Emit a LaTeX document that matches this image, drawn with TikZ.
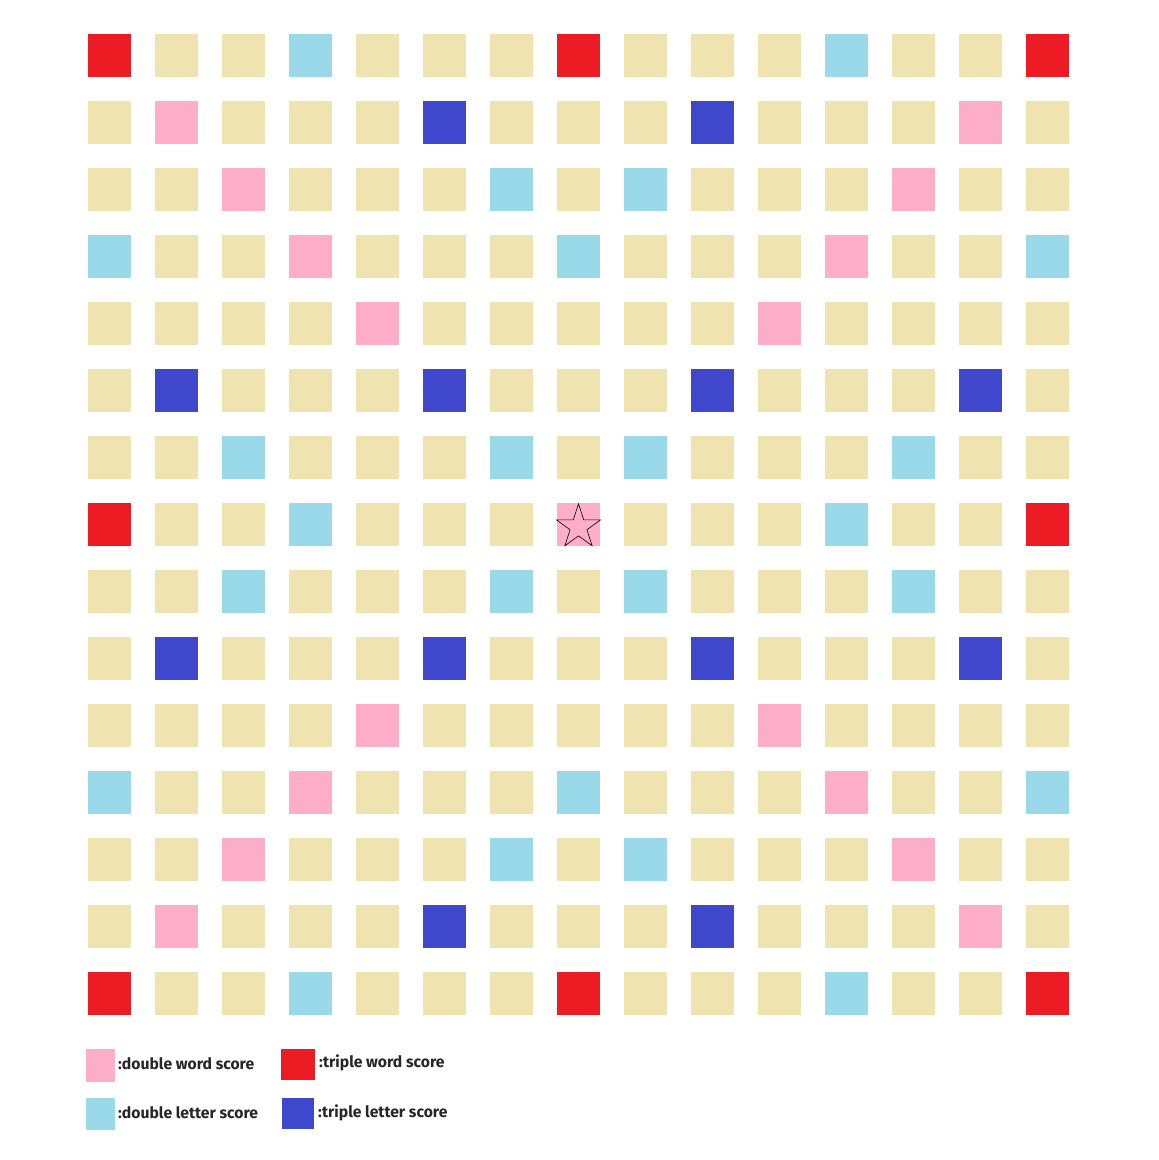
\documentclass[tikz,border=0pt]{standalone}
\usepackage{fontspec}
\setmainfont{Fira Sans}
\usetikzlibrary{shapes.geometric}
\definecolor{colR}{HTML}{ED1C24}
\definecolor{colb}{HTML}{EFE4B0}
\definecolor{colC}{HTML}{99D9EA}
\definecolor{colP}{HTML}{FFAEC9}
\definecolor{colB}{HTML}{3F48CC}
\colorlet{colS}{colP}
\tikzset{
  tile/.style={rectangle, minimum size=43pt, inner sep=0pt, outer sep=0pt, draw=none},
  legbox/.style={rectangle, inner sep=0pt, outer sep=0pt, draw=none, anchor=north west},
  legtext/.style={anchor=base west, inner sep=0pt, font=\fontsize{15.7}{17}\selectfont\bfseries, text=black!85}
}
\begin{document}
\begin{tikzpicture}[x=1pt,y=-1pt]
\fill[white] (0,0) rectangle (1159,1160);
\useasboundingbox (0,0) rectangle (1159,1160);
\foreach \r/\row in {
 0/{R,b,b,C,b,b,b,R,b,b,b,C,b,b,R},
 1/{b,P,b,b,b,B,b,b,b,B,b,b,b,P,b},
 2/{b,b,P,b,b,b,C,b,C,b,b,b,P,b,b},
 3/{C,b,b,P,b,b,b,C,b,b,b,P,b,b,C},
 4/{b,b,b,b,P,b,b,b,b,b,P,b,b,b,b},
 5/{b,B,b,b,b,B,b,b,b,B,b,b,b,B,b},
 6/{b,b,C,b,b,b,C,b,C,b,b,b,C,b,b},
 7/{R,b,b,C,b,b,b,S,b,b,b,C,b,b,R},
 8/{b,b,C,b,b,b,C,b,C,b,b,b,C,b,b},
 9/{b,B,b,b,b,B,b,b,b,B,b,b,b,B,b},
 10/{b,b,b,b,P,b,b,b,b,b,P,b,b,b,b},
 11/{C,b,b,P,b,b,b,C,b,b,b,P,b,b,C},
 12/{b,b,P,b,b,b,C,b,C,b,b,b,P,b,b},
 13/{b,P,b,b,b,B,b,b,b,B,b,b,b,P,b},
 14/{R,b,b,C,b,b,b,R,b,b,b,C,b,b,R}}{
  \foreach \t [count=\c from 0] in \row {
    \node[tile, fill=col\t] (t-\r-\c) at ({109.5+67*\c},{55.5+67*\r}) {};
  }
}
\node[star, star points=5, star point ratio=2.618, minimum size=46.4pt, inner sep=0pt, draw=black, line width=0.6pt, fill=colP] (centerstar) at (578.5,527) {};
% legend
\node[legbox, fill=colP, minimum width=29pt, minimum height=33pt] (l1) at (86,1049) {};
\node[legbox, fill=colR, minimum width=34pt, minimum height=31pt] (l2) at (281,1049) {};
\node[legbox, fill=colC, minimum width=29pt, minimum height=32pt] (l3) at (86,1098) {};
\node[legbox, fill=colB, minimum width=32pt, minimum height=31pt] (l4) at (282,1098) {};
\node[legtext] (tx1) at (118,1069.5) {:double word score};
\node[legtext] (tx2) at (319,1067) {:triple word score};
\node[legtext] (tx3) at (118,1118.5) {:double letter score};
\node[legtext] (tx4) at (318,1117) {:triple letter score};
\end{tikzpicture}
\end{document}
